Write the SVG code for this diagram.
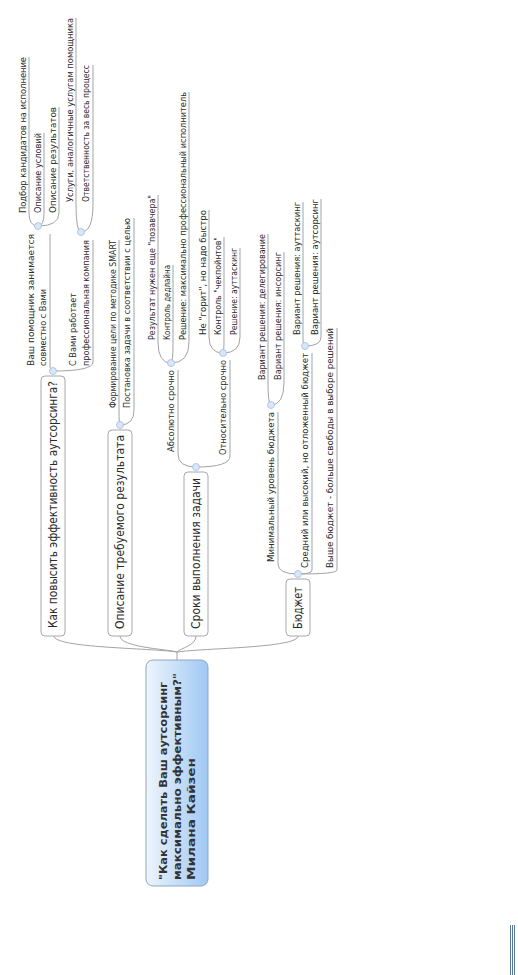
<svg xmlns="http://www.w3.org/2000/svg" width="518" height="975" viewBox="0 0 518 975">
<defs>
<linearGradient id="g" x1="0" y1="0" x2="1" y2="0">
<stop offset="0" stop-color="#eef5fd"/>
<stop offset="1" stop-color="#9fc8f3"/>
</linearGradient>
<style>
.t{font-family:"DejaVu Sans",Verdana,sans-serif;font-size:9.5px;fill:#2a2a2a}
.b{font-size:11.5px}
.c{font-family:"DejaVu Sans",Verdana,sans-serif;font-weight:bold;font-size:11px;fill:#333}
.box{fill:#fff;stroke:#a8a8a8;stroke-width:1}
.ln{fill:none;stroke:#a3a3a3;stroke-width:1}
.dot{fill:#d9e6f8;stroke:#a3bde6;stroke-width:0.8}
.mk{stroke:#56789b;stroke-width:1}
</style>
</defs>
<rect width="518" height="975" fill="#fff"/>
<g id="connectors">
<path class="ln" d="M54,636 C54,648 150,648 177,652"/>
<path class="ln" d="M120,636 C120,647 165,649 177,652"/>
<path class="ln" d="M196,636 C196,646 180,648 177,652"/>
<path class="ln" d="M298,636 C298,648 205,648 177,652"/>
<path class="ln" d="M177,652 L177,660"/>
<path class="ln" d="M53,371 C51,370 50,369 50,366 L50,234"/>
<path class="ln" d="M53,371 Q93,371 93,362 L93,240"/>
<path class="ln" d="M38,226 Q29,226 29,213 L29,57"/>
<path class="ln" d="M38,226 Q44,226 44,213 L44,133"/>
<path class="ln" d="M38,226 Q59,226 59,213 L59,107"/>
<path class="ln" d="M81,232 Q76,232 76,204 L76,18"/>
<path class="ln" d="M81,232 Q93,232 93,204 L93,65"/>
<path class="ln" d="M120,425 Q119,425 119,410 L119,240"/>
<path class="ln" d="M120,425 Q134,425 134,410 L134,218"/>
<path class="ln" d="M196,467 Q178,467 178,454 L178,370"/>
<path class="ln" d="M196,467 Q230,467 230,456 L230,360"/>
<path class="ln" d="M171,363 Q158,363 158,342 L158,195"/>
<path class="ln" d="M171,363 Q173,363 173,342 L173,265"/>
<path class="ln" d="M171,363 Q189,363 189,342 L189,92"/>
<path class="ln" d="M223,353 Q209,353 209,337 L209,210"/>
<path class="ln" d="M223,353 Q224,353 224,337 L224,237"/>
<path class="ln" d="M223,353 Q240,353 240,337 L240,248"/>
<path class="ln" d="M298,574 Q278,574 278,564 L278,412"/>
<path class="ln" d="M298,574 Q312,574 312,570 L312,353"/>
<path class="ln" d="M298,574 Q337,574 337,570 L337,328"/>
<path class="ln" d="M271,405 Q268,405 268,382 L268,234"/>
<path class="ln" d="M271,405 Q284,405 284,382 L284,252"/>
<path class="ln" d="M305,346 Q303,346 303,337 L303,202"/>
<path class="ln" d="M305,346 Q321,346 321,337 L321,199"/>
</g>
<g id="central">
<rect x="146" y="660" width="62" height="226" rx="7" fill="url(#g)" stroke="#8fa6c0"/>
<text class="c" transform="translate(167,880) rotate(-90)" textLength="198" lengthAdjust="spacingAndGlyphs">"Как сделать Ваш аутсорсинг</text>
<text class="c" transform="translate(181,880) rotate(-90)" textLength="207" lengthAdjust="spacingAndGlyphs">максимально эффективным?"</text>
<text class="c" transform="translate(195,880) rotate(-90)" textLength="122" lengthAdjust="spacingAndGlyphs">Милана Кайзен</text>
</g>
<g id="b1">
<rect class="box" x="41" y="376" width="24" height="260" rx="4"/>
<text class="t b" transform="translate(57,628) rotate(-90)" textLength="247" lengthAdjust="spacingAndGlyphs">Как повысить эффективность аутсорсинга?</text>
<circle class="dot" cx="53" cy="371" r="3.5"/>
</g>
<g id="b2">
<rect class="box" x="108" y="430" width="24" height="206" rx="4"/>
<text class="t b" transform="translate(124,629) rotate(-90)" textLength="194" lengthAdjust="spacingAndGlyphs">Описание требуемого результата</text>
<circle class="dot" cx="120" cy="425" r="3.5"/>
</g>
<g id="b3">
<rect class="box" x="184" y="472" width="24" height="164" rx="4"/>
<text class="t b" transform="translate(200,629) rotate(-90)" textLength="151" lengthAdjust="spacingAndGlyphs">Сроки выполнения задачи</text>
<circle class="dot" cx="196" cy="467" r="3.5"/>
</g>
<g id="b4">
<rect class="box" x="286" y="579" width="24" height="57" rx="4"/>
<text class="t b" transform="translate(302,629) rotate(-90)" textLength="42" lengthAdjust="spacingAndGlyphs">Бюджет</text>
<circle class="dot" cx="298" cy="574" r="3.5"/>
</g>
<g id="a1">
<text class="t" transform="translate(34,366) rotate(-90)" textLength="132" lengthAdjust="spacingAndGlyphs">Ваш помощник занимается</text>
<text class="t" transform="translate(46,366) rotate(-90)" textLength="77" lengthAdjust="spacingAndGlyphs">совместно с Вами</text>
<circle class="dot" cx="38" cy="226" r="3.5"/>
</g>
<g id="a2">
<text class="t" transform="translate(76,366) rotate(-90)" textLength="73" lengthAdjust="spacingAndGlyphs">С Вами работает</text>
<text class="t" transform="translate(89,366) rotate(-90)" textLength="126" lengthAdjust="spacingAndGlyphs">профессиональная компания</text>
<circle class="dot" cx="81" cy="232" r="3.5"/>
</g>
<g id="a11"><text class="t" transform="translate(26,213) rotate(-90)" textLength="156" lengthAdjust="spacingAndGlyphs">Подбор кандидатов на исполнение</text></g>
<g id="a12"><text class="t" transform="translate(41,213) rotate(-90)" textLength="80" lengthAdjust="spacingAndGlyphs">Описание условий</text></g>
<g id="a13"><text class="t" transform="translate(56,213) rotate(-90)" textLength="106" lengthAdjust="spacingAndGlyphs">Описание результатов</text></g>
<g id="a21"><text class="t" transform="translate(73,202) rotate(-90)" textLength="184" lengthAdjust="spacingAndGlyphs">Услуги, аналогичные услугам помощника</text></g>
<g id="a22"><text class="t" transform="translate(89,202) rotate(-90)" textLength="137" lengthAdjust="spacingAndGlyphs">Ответственность за весь процесс</text></g>
<g id="b21"><text class="t" transform="translate(116,408) rotate(-90)" textLength="168" lengthAdjust="spacingAndGlyphs">Формирование цели по методике SMART</text></g>
<g id="b22"><text class="t" transform="translate(130,408) rotate(-90)" textLength="190" lengthAdjust="spacingAndGlyphs">Постановка задачи в соответствии с целью</text></g>
<g id="c1">
<text class="t" transform="translate(174,452) rotate(-90)" textLength="82" lengthAdjust="spacingAndGlyphs">Абсолютно срочно</text>
<circle class="dot" cx="171" cy="363" r="3.5"/>
</g>
<g id="c2">
<text class="t" transform="translate(226,455) rotate(-90)" textLength="95" lengthAdjust="spacingAndGlyphs">Относительно срочно</text>
<circle class="dot" cx="223" cy="353" r="3.5"/>
</g>
<g id="c11"><text class="t" transform="translate(155,340) rotate(-90)" textLength="145" lengthAdjust="spacingAndGlyphs">Результат нужен еще "позавчера"</text></g>
<g id="c12"><text class="t" transform="translate(170,340) rotate(-90)" textLength="75" lengthAdjust="spacingAndGlyphs">Контроль дедлайна</text></g>
<g id="c13"><text class="t" transform="translate(186,340) rotate(-90)" textLength="248" lengthAdjust="spacingAndGlyphs">Решение: максимально профессиональный исполнитель</text></g>
<g id="c21"><text class="t" transform="translate(206,335) rotate(-90)" textLength="125" lengthAdjust="spacingAndGlyphs">Не "горит", но надо быстро</text></g>
<g id="c22"><text class="t" transform="translate(221,335) rotate(-90)" textLength="98" lengthAdjust="spacingAndGlyphs">Контроль "чекпойнтов"</text></g>
<g id="c23"><text class="t" transform="translate(237,335) rotate(-90)" textLength="87" lengthAdjust="spacingAndGlyphs">Решение: ауттаскинг</text></g>
<g id="d1">
<text class="t" transform="translate(274,562) rotate(-90)" textLength="150" lengthAdjust="spacingAndGlyphs">Минимальный уровень бюджета</text>
<circle class="dot" cx="271" cy="405" r="3.5"/>
</g>
<g id="d2">
<text class="t" transform="translate(308,568) rotate(-90)" textLength="215" lengthAdjust="spacingAndGlyphs">Средний или высокий, но отложенный бюджет</text>
<circle class="dot" cx="305" cy="346" r="3.5"/>
</g>
<g id="d3"><text class="t" transform="translate(333,568) rotate(-90)" textLength="240" lengthAdjust="spacingAndGlyphs">Выше бюджет - больше свободы в выборе решений</text></g>
<g id="d11"><text class="t" transform="translate(265,380) rotate(-90)" textLength="146" lengthAdjust="spacingAndGlyphs">Вариант решения: делегирование</text></g>
<g id="d12"><text class="t" transform="translate(281,380) rotate(-90)" textLength="128" lengthAdjust="spacingAndGlyphs">Вариант решения: инсорсинг</text></g>
<g id="d21"><text class="t" transform="translate(300,335) rotate(-90)" textLength="133" lengthAdjust="spacingAndGlyphs">Вариант решения: ауттаскинг</text></g>
<g id="d22"><text class="t" transform="translate(318,335) rotate(-90)" textLength="136" lengthAdjust="spacingAndGlyphs">Вариант решения: аутсорсинг</text></g>
<g id="mark">
<line class="mk" x1="510.5" y1="925" x2="510.5" y2="975"/>
<line class="mk" x1="512.5" y1="925" x2="512.5" y2="975"/>
<line class="mk" x1="514.5" y1="925" x2="514.5" y2="975"/>
</g>
</svg>
